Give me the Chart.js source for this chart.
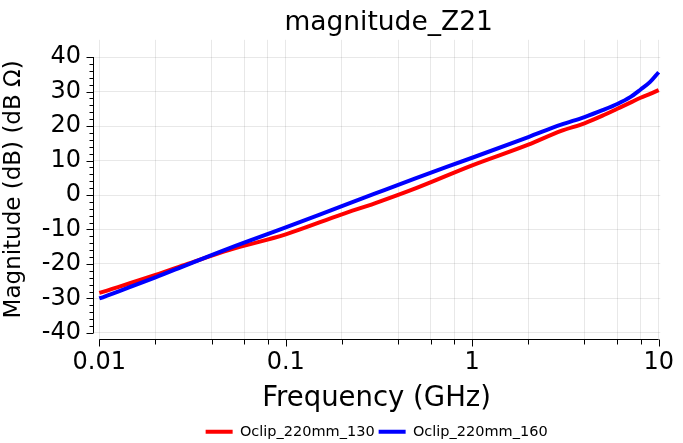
<!DOCTYPE html>
<html>
<head>
<meta charset="utf-8">
<script src="https://cdn.jsdelivr.net/npm/chart.js@4.4.1/dist/chart.umd.min.js"></script>
<style>
  html, body { margin: 0; padding: 0; background: #fff; }
  #wrap { width: 683px; height: 443px; }
</style>
</head>
<body>
<div id="wrap"><canvas id="chart" width="683" height="443"></canvas></div>
<script>
// frequency points (GHz)
const freqs = [0.01, 0.02, 0.03, 0.05, 0.1, 0.2, 0.3, 0.5, 1, 2, 3, 4, 5, 6, 7, 8, 9, 10];
// Oclip_220mm_130 (red)
const mag130 = [-28.4, -23.2, -19.9, -15.9, -11.4, -5.6, -2.4, 2.0, 8.6, 14.6, 18.6, 20.8, 23.0, 25.0, 26.7, 28.2, 29.3, 30.4];
// Oclip_220mm_160 (blue)
const mag160 = [-30.0, -23.9, -20.1, -15.4, -9.4, -3.2, 0.4, 4.9, 10.8, 16.8, 20.4, 22.6, 24.6, 26.4, 28.3, 30.6, 32.8, 35.6];

const xTicks = [0.01, 0.02, 0.04, 0.06, 0.08, 0.1, 0.2, 0.4, 0.6, 0.8, 1, 2, 4, 6, 8, 10];
const xLabels = [0.01, 0.1, 1, 10];

const FONT = 'DejaVu Sans';
const GRID = 'rgba(0,0,0,0.09)';

const isDecade = v => xLabels.some(d => Math.abs(d - v) < 1e-9);
const yTicks = [];
for (let v = -40; v <= 40; v += 2) yTicks.push(v);

// axis lines and tick marks, offset from the plot like the original
const axesPlugin = {
    id: 'axesPlugin',
    afterLayout(chart) {
        // title sits a bit right of the plot centre in the original
        chart.titleBlock.left += 12;
        chart.titleBlock.right += 12;
    },
    afterDraw(chart) {
        const { ctx, chartArea } = chart;
        const xs = chart.scales.x, ys = chart.scales.y;
        ctx.save();
        ctx.strokeStyle = '#000';
        ctx.lineWidth = 1;
        const ax = Math.round(chartArea.left) + 0.5;
        const ay = Math.round(chartArea.bottom) + 0.5;
        ctx.beginPath();
        ctx.moveTo(ax, ys.getPixelForValue(40));
        ctx.lineTo(ax, ys.getPixelForValue(-40));
        yTicks.forEach(v => {
            const py = Math.round(ys.getPixelForValue(v)) + 0.5;
            const len = v % 10 === 0 ? 7 : 4;
            ctx.moveTo(ax, py);
            ctx.lineTo(ax - len, py);
        });
        ctx.moveTo(xs.getPixelForValue(0.01), ay);
        ctx.lineTo(xs.getPixelForValue(10), ay);
        xTicks.forEach(v => {
            const px = Math.round(xs.getPixelForValue(v)) + 0.5;
            const len = isDecade(v) ? 7 : 5;
            ctx.moveTo(px, ay);
            ctx.lineTo(px, ay + len);
        });
        ctx.stroke();
        ctx.restore();
    }
};

const toPoints = vals => freqs.map((f, i) => ({ x: f, y: vals[i] }));

new Chart(document.getElementById('chart'), {
    type: 'line',
    data: {
        datasets: [{
            label: 'Oclip_220mm_130',
            data: toPoints(mag130),
            borderColor: '#ff0000',
            backgroundColor: '#ff0000',
            borderWidth: 4,
            pointRadius: 0,
            cubicInterpolationMode: 'monotone',
            order: 1
        }, {
            label: 'Oclip_220mm_160',
            data: toPoints(mag160),
            borderColor: '#0000ff',
            backgroundColor: '#0000ff',
            borderWidth: 4,
            pointRadius: 0,
            cubicInterpolationMode: 'monotone',
            order: 0
        }]
    },
    options: {
        responsive: false,
        animation: false,
        layout: { padding: { left: 0, right: 16, top: 0, bottom: -6 } },
        plugins: {
            title: {
                display: true,
                text: 'magnitude_Z21',
                fullSize: false,
                color: '#000',
                font: { family: FONT, size: 26.5, weight: 'normal' },
                padding: { top: 7, bottom: 1 }
            },
            legend: {
                position: 'bottom',
                fullSize: false,
                labels: {
                    color: '#000',
                    font: { family: FONT, size: 14.5 },
                    boxWidth: 27,
                    boxHeight: 4,
                    padding: 4,
                    sort: (a, b) => a.datasetIndex - b.datasetIndex,
                    generateLabels: chart => Chart.defaults.plugins.legend.labels.generateLabels(chart)
                        .map(l => Object.assign(l, { lineWidth: 0 }))
                }
            },
            tooltip: { enabled: false }
        },
        scales: {
            x: {
                type: 'logarithmic',
                min: 0.00925,
                max: 10.2,
                afterBuildTicks: s => { s.ticks = xTicks.map(v => ({ value: v })); },
                afterFit: s => { s.height = 81.5; },
                border: { display: false },
                grid: { color: GRID, lineWidth: 1, drawTicks: false },
                ticks: {
                    autoSkip: false,
                    maxRotation: 0,
                    padding: 9,
                    color: '#000',
                    font: { family: FONT, size: 24 },
                    callback: v => isDecade(v) ? String(v) : ''
                },
                title: {
                    display: true,
                    text: 'Frequency (GHz)',
                    color: '#000',
                    font: { family: FONT, size: 27.5 },
                    padding: { top: 0, bottom: 5 }
                }
            },
            y: {
                min: -41.75,
                max: 45,
                afterBuildTicks: s => { s.ticks = yTicks.map(v => ({ value: v })); },
                afterFit: s => { s.width = 93; },
                border: { display: false },
                grid: {
                    color: c => (c.tick && c.tick.value % 10 === 0) ? GRID : 'rgba(0,0,0,0)',
                    lineWidth: 1,
                    drawTicks: false
                },
                ticks: {
                    autoSkip: false,
                    padding: 12,
                    color: '#000',
                    font: { family: FONT, size: 24 },
                    callback: v => v % 10 === 0 ? String(v) : ''
                },
                title: {
                    display: true,
                    text: 'Magnitude (dB) (dB Ω)',
                    color: '#000',
                    font: { family: FONT, size: 23 },
                    padding: { top: 0, bottom: 0 }
                }
            }
        }
    },
    plugins: [axesPlugin]
});
</script>
</body>
</html>
